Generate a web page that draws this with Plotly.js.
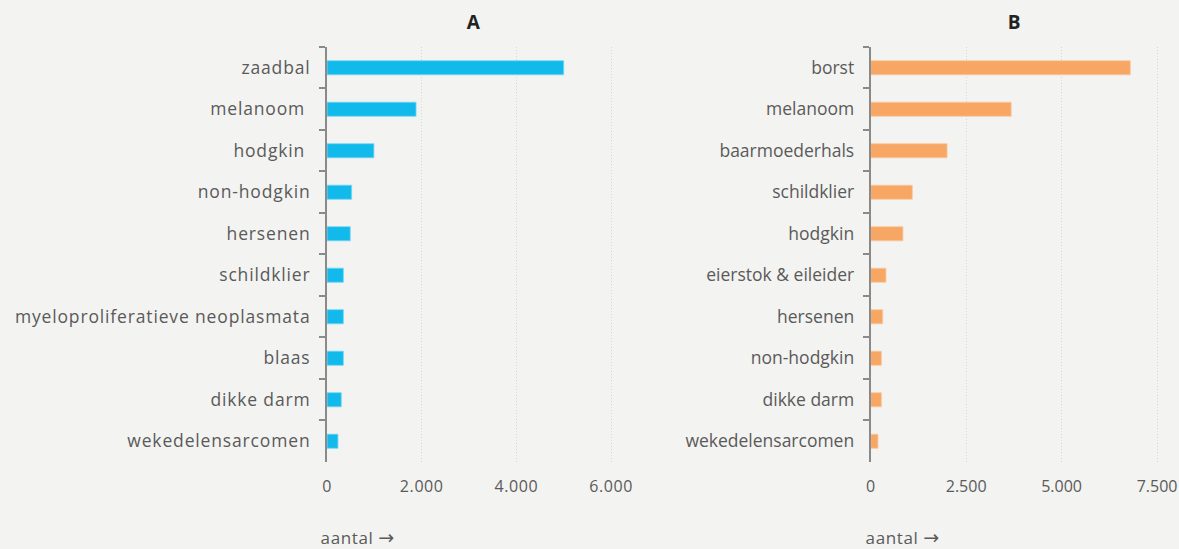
<!DOCTYPE html>
<html>
<head>
<meta charset="utf-8">
<script src="https://cdn.plot.ly/plotly-3.0.1.min.js"></script>
<style>
html,body{margin:0;padding:0;background:#f3f3f1;}
#chart{width:1179px;height:549px;}
#chart .ytick text{letter-spacing:0.85px;}
#chart .xtick text{letter-spacing:0.6px;}
#chart .annotation-text{letter-spacing:0.6px;}
</style>
</head>
<body>
<div id="chart"></div>
<script>
const catsA = ["zaadbal", "melanoom\u00a0", "hodgkin\u00a0", "non-hodgkin", "hersenen", "schildklier", "myeloproliferatieve neoplasmata", "blaas", "dikke darm", "wekedelensarcomen"];
const valsA = [5000, 1880, 990, 520, 490, 345, 345, 345, 300, 230];
const catsB = ["borst", "melanoom", "baarmoederhals", "schildklier", "hodgkin", "eierstok & eileider", "hersenen", "non-hodgkin", "dikke darm", "wekedelensarcomen"];
const valsB = [6800, 3680, 2000, 1090, 845, 400, 315, 280, 280, 190];
const ticksA = [0, 2000, 4000, 6000];
const ticksB = [0, 2500, 5000, 7500];
const titles = ["A", "B"];
const axisWord = "aantal";
const axisArrow = "\u2192";

const FONT = "'Open Sans', 'Noto Sans', sans-serif";
const txt = "#5a5a5a";

const traces = [
  {type: "bar", orientation: "h", x: valsA, y: catsA, xaxis: "x", yaxis: "y",
   marker: {color: "#12b9eb", line: {color: "rgba(120,215,245,0.8)", width: 1}}, width: 0.34, hoverinfo: "x+y"},
  {type: "bar", orientation: "h", x: valsB, y: catsB, xaxis: "x2", yaxis: "y2",
   marker: {color: "#f7a763", line: {color: "rgba(250,200,160,0.8)", width: 1}}, width: 0.34, hoverinfo: "x+y"}
];

function xax(domain, ticks, maxv) {
  return {domain: domain, range: [0, maxv], tickvals: ticks, tickformat: ",d",
    showgrid: true, gridcolor: "#d6d6d6", griddash: "1px,2px", gridwidth: 1,
    zeroline: false, showline: false, ticks: "", ticklabelstandoff: 13,
    tickfont: {family: FONT, size: 16, color: txt}, fixedrange: true};
}
function yax(anchor) {
  return {anchor: anchor, domain: [0.1585, 0.9144], autorange: "reversed", type: "category",
    showline: true, linecolor: "#8a8a8a", linewidth: 2, ticks: "outside", tickson: "boundaries",
    ticklen: 6, tickcolor: "#8a8a8a", tickwidth: 2, showgrid: false, ticklabelstandoff: 11,
    tickfont: {family: FONT, size: 17.5, color: txt}, fixedrange: true};
}

const xa = xax([0.2774, 0.5267], ticksA, 6210);
xa.anchor = "y";
const xb = xax([0.7385, 0.983], ticksB, 7550);
xb.anchor = "y2";

const lab = axisWord + " <span style=\"font-family:'DejaVu Sans';font-size:19px\">" + axisArrow + "</span>";

const layout = {
  width: 1179, height: 549,
  paper_bgcolor: "#f3f3f1", plot_bgcolor: "#f3f3f1",
  margin: {l: 0, r: 0, t: 0, b: 0},
  separators: ",.",
  showlegend: false,
  bargap: 0.66,
  xaxis: xa, yaxis: yax("x"),
  xaxis2: xb, yaxis2: yax("x2"),
  annotations: [
    {text: "<b>" + titles[0] + "</b>", xref: "paper", yref: "paper", x: (0.2774 + 0.5267) / 2, y: 1 - 22 / 549,
     xanchor: "center", yanchor: "middle", showarrow: false, font: {family: FONT, size: 19, color: "#222"}},
    {text: "<b>" + titles[1] + "</b>", xref: "paper", yref: "paper", x: (0.7385 + 0.983) / 2, y: 1 - 22 / 549,
     xanchor: "center", yanchor: "middle", showarrow: false, font: {family: FONT, size: 19, color: "#222"}},
    {text: lab, xref: "paper", yref: "paper", x: 321 / 1179, y: 1 - 537 / 549,
     xanchor: "left", yanchor: "middle", showarrow: false, font: {family: FONT, size: 17, color: txt}},
    {text: lab, xref: "paper", yref: "paper", x: 866 / 1179, y: 1 - 537 / 549,
     xanchor: "left", yanchor: "middle", showarrow: false, font: {family: FONT, size: 17, color: txt}}
  ]
};

Plotly.newPlot("chart", traces, layout, {displayModeBar: false, staticPlot: true});
</script>
</body>
</html>
